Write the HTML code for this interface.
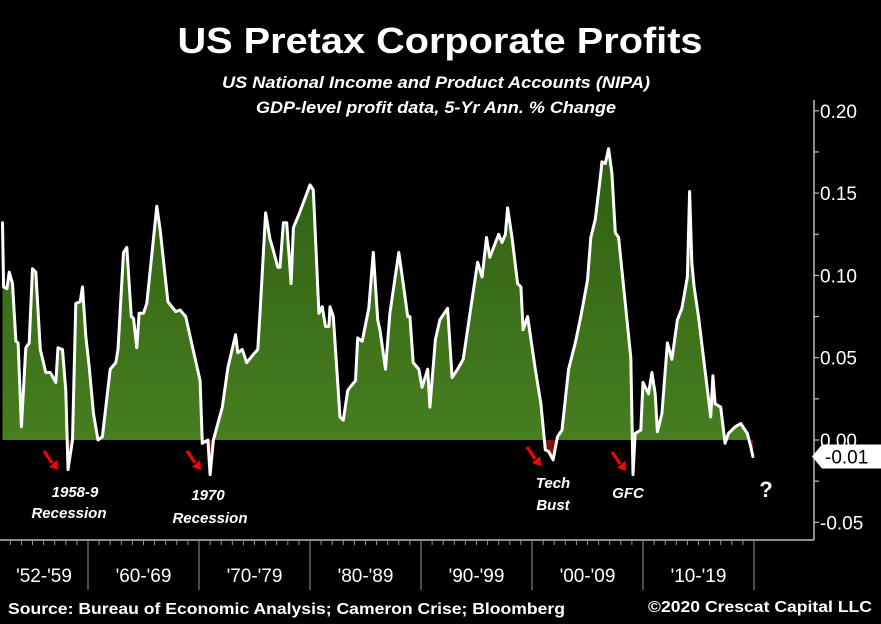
<!DOCTYPE html>
<html><head><meta charset="utf-8"><style>
html,body{margin:0;padding:0;background:#000;}
svg{display:block;font-family:"Liberation Sans",sans-serif;}
</style></head><body>
<svg id="chart" width="881" height="624" viewBox="0 0 881 624" xmlns="http://www.w3.org/2000/svg">
<defs>
<linearGradient id="g" x1="0" y1="0" x2="0" y2="1"><stop offset="0" stop-color="#2f5e12"/><stop offset="1" stop-color="#4a8222"/></linearGradient>
<clipPath id="above"><rect x="0" y="0" width="814" height="440"/></clipPath>
<clipPath id="below"><rect x="0" y="440" width="814" height="100"/></clipPath>
</defs>
<rect width="881" height="624" fill="#000"/>
<text x="440" y="53" text-anchor="middle" fill="#fff" font-weight="bold" font-size="36" textLength="525" lengthAdjust="spacingAndGlyphs">US Pretax Corporate Profits</text>
<text x="436" y="88" text-anchor="middle" fill="#fff" font-weight="bold" font-style="italic" font-size="17" textLength="428" lengthAdjust="spacingAndGlyphs">US National Income and Product Accounts (NIPA)</text>
<text x="436" y="113" text-anchor="middle" fill="#fff" font-weight="bold" font-style="italic" font-size="17" textLength="360" lengthAdjust="spacingAndGlyphs">GDP-level profit data, 5-Yr Ann. % Change</text>
<g id="plot"></g>
<g id="axes"></g>
<text x="75" y="497" text-anchor="middle" fill="#fff" font-weight="bold" font-style="italic" font-size="15">1958-9</text>
<text x="69" y="518" text-anchor="middle" fill="#fff" font-weight="bold" font-style="italic" font-size="15">Recession</text>
<text x="208" y="500" text-anchor="middle" fill="#fff" font-weight="bold" font-style="italic" font-size="15">1970</text>
<text x="210" y="523" text-anchor="middle" fill="#fff" font-weight="bold" font-style="italic" font-size="15">Recession</text>
<text x="553" y="488" text-anchor="middle" fill="#fff" font-weight="bold" font-style="italic" font-size="15">Tech</text>
<text x="553" y="510" text-anchor="middle" fill="#fff" font-weight="bold" font-style="italic" font-size="15">Bust</text>
<text x="628" y="498" text-anchor="middle" fill="#fff" font-weight="bold" font-style="italic" font-size="15">GFC</text>
<text x="766" y="497" text-anchor="middle" fill="#fff" font-weight="bold" font-size="22">?</text>
<g fill="#f00" stroke="#f00" stroke-width="3">
<g><line x1="44" y1="451" x2="52" y2="463"/><polygon points="49,467 58,470 57,460" stroke="none"/></g>
<g><line x1="187" y1="451" x2="195" y2="463"/><polygon points="192,467 201,470 200,460" stroke="none"/></g>
<g><line x1="527" y1="447" x2="535" y2="459"/><polygon points="532,463 541,466 540,456" stroke="none"/></g>
<g><line x1="612" y1="452" x2="620" y2="464"/><polygon points="617,468 626,471 625,461" stroke="none"/></g>
</g>
<text x="8" y="614" fill="#fff" font-weight="bold" font-size="16" textLength="557" lengthAdjust="spacingAndGlyphs">Source: Bureau of Economic Analysis; Cameron Crise; Bloomberg</text>
<text x="872" y="612" text-anchor="end" fill="#fff" font-weight="bold" font-size="16" textLength="224" lengthAdjust="spacingAndGlyphs">©2020 Crescat Capital LLC</text>
</svg>
<script>
const years = [1952.3,1952.4,1952.7,1952.9,1953.2,1953.5,1953.7,1954.0,1954.4,1954.7,1955.0,1955.3,1955.7,1956.2,1956.6,1957.1,1957.3,1957.7,1958.0,1958.2,1958.6,1958.9,1959.3,1959.5,1959.8,1960.1,1960.5,1960.9,1961.3,1962.0,1962.5,1962.7,1963.2,1963.5,1963.9,1964.1,1964.4,1964.6,1965.0,1965.3,1966.2,1966.5,1967.2,1967.9,1968.3,1968.8,1969.2,1970.1,1970.3,1970.8,1971.0,1971.3,1972.1,1972.6,1973.3,1973.5,1973.9,1974.3,1974.9,1975.3,1975.5,1976.0,1976.4,1976.7,1977.1,1977.3,1977.6,1977.9,1978.3,1978.5,1979.0,1980.0,1980.3,1980.8,1981.1,1981.4,1981.7,1981.8,1982.1,1982.7,1983.0,1983.4,1983.6,1984.1,1984.3,1984.7,1985.3,1985.7,1986.1,1986.3,1986.8,1987.2,1988.0,1988.4,1988.8,1989.0,1989.3,1989.8,1990.1,1990.6,1990.8,1991.3,1991.7,1992.4,1992.8,1993.3,1993.8,1995.1,1995.5,1995.9,1996.2,1997.0,1997.3,1997.6,1997.8,1998.2,1998.7,1999.0,1999.2,1999.6,2000.3,2000.8,2001.2,2001.5,2001.9,2002.3,2002.7,2003.3,2003.9,2004.4,2005.0,2005.3,2005.7,2006.2,2006.3,2006.6,2006.9,2007.2,2007.5,2007.8,2008.9,2009.1,2009.3,2009.8,2010.0,2010.5,2010.8,2011.1,2011.3,2011.7,2012.2,2012.6,2013.1,2013.5,2014.0,2014.2,2014.4,2014.6,2015.0,2015.4,2016.1,2016.3,2016.5,2017.0,2017.4,2017.7,2018.3,2018.8,2019.4,2019.7,2019.9];
const values = [0.132,0.093,0.092,0.102,0.095,0.060,0.059,0.008,0.056,0.059,0.104,0.102,0.055,0.041,0.041,0.035,0.056,0.055,0.030,-0.018,0.000,0.083,0.084,0.093,0.063,0.045,0.016,0.000,0.002,0.043,0.047,0.055,0.114,0.117,0.075,0.074,0.056,0.077,0.077,0.083,0.142,0.128,0.084,0.078,0.079,0.075,0.063,0.036,-0.002,0.000,-0.021,0.000,0.020,0.044,0.064,0.053,0.055,0.047,0.052,0.055,0.077,0.138,0.122,0.115,0.105,0.105,0.132,0.132,0.095,0.129,0.137,0.155,0.152,0.077,0.081,0.069,0.069,0.081,0.075,0.014,0.012,0.030,0.032,0.036,0.062,0.060,0.080,0.114,0.073,0.067,0.043,0.077,0.114,0.095,0.075,0.075,0.047,0.043,0.032,0.043,0.020,0.061,0.073,0.080,0.038,0.043,0.049,0.108,0.099,0.123,0.111,0.125,0.120,0.125,0.141,0.123,0.095,0.093,0.067,0.075,0.043,0.022,-0.006,-0.007,-0.012,0.002,0.006,0.043,0.059,0.075,0.097,0.123,0.134,0.162,0.169,0.168,0.177,0.162,0.126,0.123,0.050,-0.021,0.004,0.006,0.035,0.028,0.041,0.028,0.005,0.016,0.059,0.049,0.073,0.080,0.099,0.151,0.108,0.093,0.075,0.053,0.014,0.039,0.022,0.020,-0.002,0.004,0.008,0.010,0.004,-0.004,-0.010];
const yTicks = [0.20,0.15,0.10,0.05,0.00,-0.05];
const yTickLabels = ["0.20","0.15","0.10","0.05","0.00","-0.05"];
const decadeLabels = ["'52-'59","'60-'69","'70-'79","'80-'89","'90-'99","'00-'09","'10-'19"];
const decadeStarts = [1952,1960,1970,1980,1990,2000,2010];
const lastValueLabel = "-0.01";

const NS = "http://www.w3.org/2000/svg";
const X = yr => 88 + (yr - 1960) * 11.1;
const Y = v => 440 - v * 1646;
function mk(tag, attrs, parent){const e=document.createElementNS(NS,tag);for(const k in attrs)e.setAttribute(k,attrs[k]);parent.appendChild(e);return e;}
const plot = document.getElementById('plot');
const axes = document.getElementById('axes');

let pts = years.map((y,i)=>X(y).toFixed(1)+','+Y(values[i]).toFixed(1));
const areaD = 'M'+X(years[0]).toFixed(1)+','+Y(0)+' L'+pts.join(' L')+' L'+X(years[years.length-1]).toFixed(1)+','+Y(0)+' Z';
const posArea = mk('path',{d:areaD,fill:'url(#g)','clip-path':'url(#above)'},plot);


const negArea = mk('path',{d:areaD,fill:'#7a1212','clip-path':'url(#below)'},plot);


const line = mk('polyline',{points:pts.join(' '),fill:'none',stroke:'#fff','stroke-width':3,'stroke-linejoin':'round','stroke-linecap':'round'},plot);



const ax = mk('line',{x1:814,y1:100,x2:814,y2:540,stroke:'#bbb','stroke-width':1.5},axes);


const bx = mk('line',{x1:0,y1:540,x2:814,y2:540,stroke:'#bbb','stroke-width':1.5},axes);


for(let k=-2; k<=8; k++){
  const v = k*0.025;
  const t = mk('line',{x1:814,x2:819,y1:Y(v),y2:Y(v),stroke:'#bbb','stroke-width':1.2},axes);
  
  
}
yTicks.forEach((v,i)=>{
  const t = mk('text',{x:820,y:Y(v)+7,fill:'#fff','font-size':19},axes);
  t.textContent = yTickLabels[i];
  
  
});
const lv = values[values.length-1];
const lab = mk('path',{d:`M812,${Y(lv)} L822,${Y(lv)-12} L881,${Y(lv)-12} L881,${Y(lv)+12} L822,${Y(lv)+12} Z`,fill:'#fff'},axes);


const lt = mk('text',{x:825,y:Y(lv)+7,fill:'#000','font-size':19},axes);
lt.textContent = lastValueLabel;



for(let yr=1952; yr<=2020; yr++){
  const t = mk('line',{x1:X(yr),x2:X(yr),y1:540,y2:545,stroke:'#999','stroke-width':1},axes);
  
  
}
decadeStarts.forEach((d,i)=>{
  const next = i<decadeStarts.length-1 ? decadeStarts[i+1] : 2020;
  if(i>0){
    const s = mk('line',{x1:X(d),x2:X(d),y1:540,y2:590,stroke:'#999','stroke-width':1},axes);
    
    
  }
  const lx = i===0 ? (0+X(next))/2 : (X(d)+X(next))/2;
  const t = mk('text',{x:lx,y:582,fill:'#fff','font-size':19,'text-anchor':'middle'},axes);
  t.textContent = decadeLabels[i];
  
  
});
const es = mk('line',{x1:X(2020),x2:X(2020),y1:540,y2:590,stroke:'#999','stroke-width':1},axes);


</script>
</body></html>
